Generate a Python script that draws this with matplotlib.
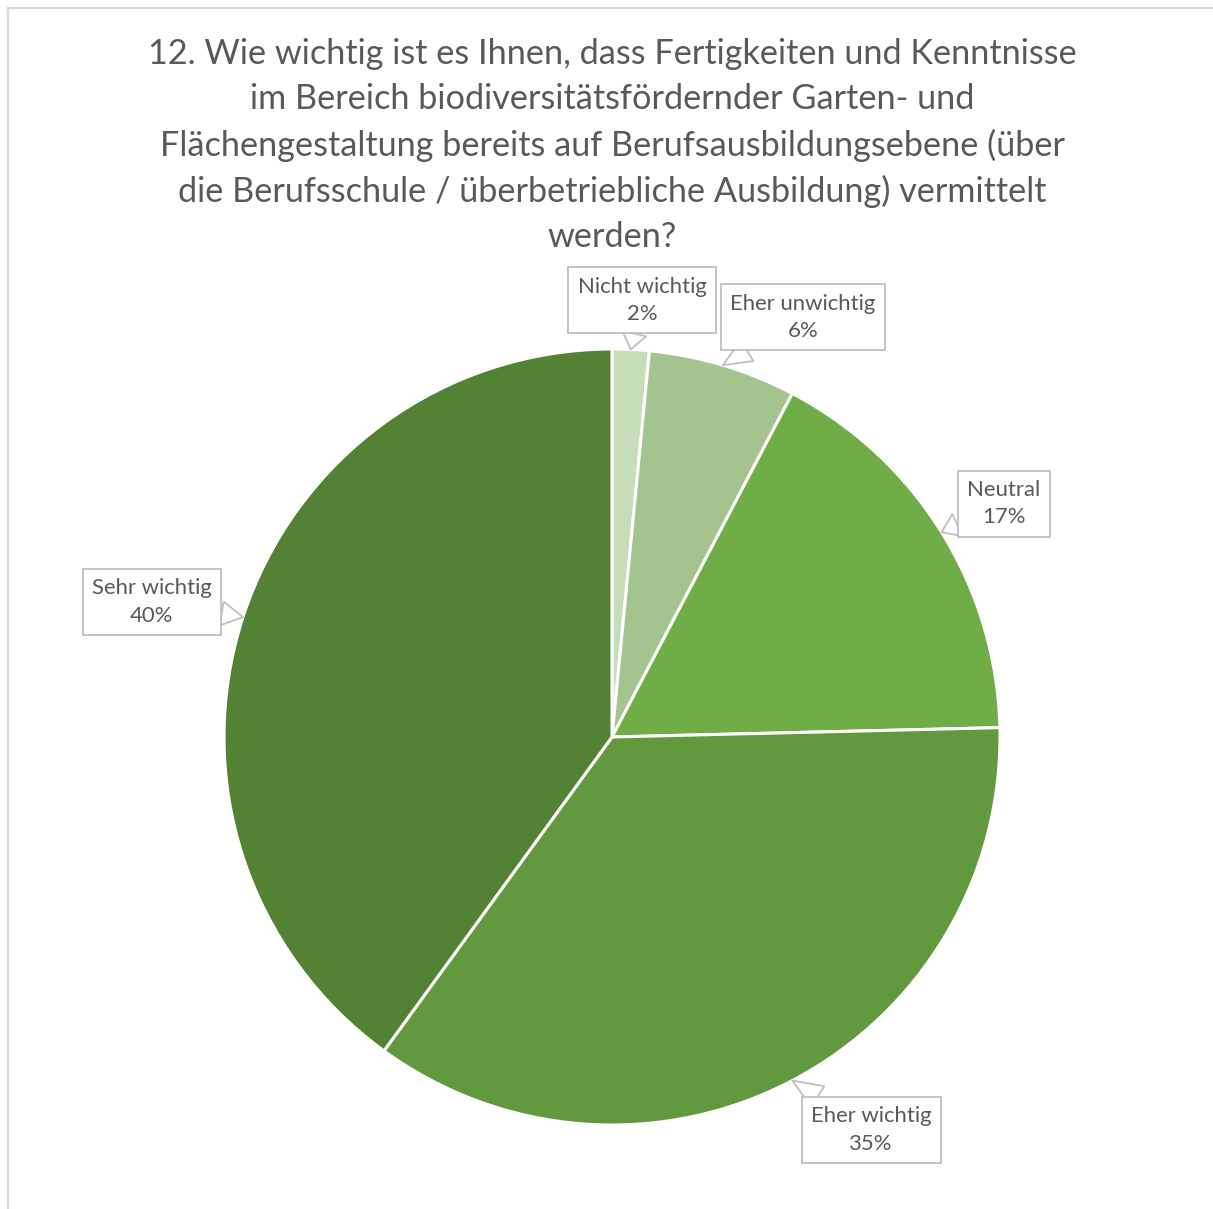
import numpy as np
import matplotlib
matplotlib.use("Agg")
import matplotlib.pyplot as plt
from matplotlib.lines import Line2D

plt.rcParams['font.family'] = ['Lato', 'DejaVu Sans']

# answers, clockwise from 12 o'clock (counts of responses)
categories = ["Nicht wichtig", "Eher unwichtig", "Neutral", "Eher wichtig", "Sehr wichtig"]
counts = [1, 4, 11, 23, 26]
colors = ["#C5DDB8", "#A3C48F", "#70AD47", "#62993E", "#548235"]

# where the callout boxes sit (axes units, pie radius = 1)
label_pos = [(0.077, 1.126), (0.492, 1.082), (1.010, 0.601), (0.668, -1.013), (-1.186, 0.348)]

title = ("12. Wie wichtig ist es Ihnen, dass Fertigkeiten und Kenntnisse\n"
         "im Bereich biodiversitätsfördernder Garten- und\n"
         "Flächengestaltung bereits auf Berufsausbildungsebene (über\n"
         "die Berufsschule / überbetriebliche Ausbildung) vermittelt\n"
         "werden?")

W, H = 1213, 1209
fig = plt.figure(figsize=(W / 100, H / 100), dpi=100)
fig.patch.set_facecolor("white")

# thin chart frame (top + left visible)
fig.add_artist(Line2D([7.5 / W, 7.5 / W], [0, 1 - 8 / H], color="#D9D9D9", lw=1.6))
fig.add_artist(Line2D([7.5 / W, 1], [1 - 8 / H, 1 - 8 / H], color="#D9D9D9", lw=1.6))

fig.text(612 / W, 1 - 38 / H, title, ha="center", va="top", fontsize=24.7,
         color="#595959", linespacing=1.5)

cx, cy, r = 612, 737, 388
ax = fig.add_axes([(cx - r) / W, (H - cy - r) / H, 2 * r / W, 2 * r / H])
wedges, _ = ax.pie(counts, colors=colors, startangle=90, counterclock=False,
                   radius=1, wedgeprops=dict(edgecolor="white", linewidth=2.2))
ax.set_xlim(-1, 1)
ax.set_ylim(-1, 1)
ax.set_aspect("equal")
ax.axis("off")

total = sum(counts)
for w, name, n, pos in zip(wedges, categories, counts, label_pos):
    mid = np.deg2rad((w.theta1 + w.theta2) / 2)
    tip = (np.cos(mid), np.sin(mid))
    pct = round(100 * n / total)
    ax.annotate(f"{name}\n{pct}%", xy=tip, xytext=pos, ha="center", va="center",
                fontsize=15.9, color="#595959", linespacing=1.45,
                annotation_clip=False,
                bbox=dict(boxstyle="square,pad=0.42", fc="white", ec="#BFBFBF", lw=1.3),
                arrowprops=dict(arrowstyle="wedge,tail_width=1.1,shrink_factor=0.5",
                                fc="white", ec="#BFBFBF", lw=1.3,
                                shrinkA=0, shrinkB=0))

fig.savefig("out.png", dpi=100)
